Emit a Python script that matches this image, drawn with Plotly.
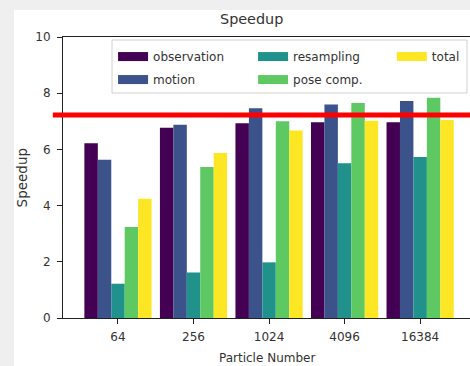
import plotly.graph_objects as go

categories = ["64", "256", "1024", "4096", "16384"]
series_names = ["observation", "motion", "resampling", "pose comp.", "total"]
observation = [6.22, 6.77, 6.93, 6.97, 6.97]
motion = [5.63, 6.88, 7.46, 7.60, 7.72]
resampling = [1.22, 1.62, 1.98, 5.51, 5.73]
pose_comp = [3.24, 5.37, 7.00, 7.65, 7.84]
total = [4.24, 5.87, 6.67, 7.02, 7.05]
y_ticks = [0, 2, 4, 6, 8, 10]
ref_line_value = 7.22

colors = ["#440154", "#3b528b", "#21918c", "#5ec962", "#fde725"]
values = [observation, motion, resampling, pose_comp, total]
legend_ids = ["legend", "legend", "legend2", "legend2", "legend3"]

FONT = "DejaVu Sans"
TXT = "#333333"
FS = 12

fig = go.Figure()
for name, vals, col in zip(series_names, values, colors):
    fig.add_trace(go.Bar(x=categories, y=vals, name=name, marker=dict(color=col, line=dict(width=0)),
                         showlegend=False))
# legend swatches
for name, col, lg in zip(series_names, colors, legend_ids):
    fig.add_trace(go.Scatter(x=[None], y=[None], mode="lines", name=name, legend=lg,
                             legendgroup=name, line=dict(color=col, width=9)))

leg_common = dict(yanchor="top", xanchor="left", y=0.982, bgcolor="rgba(0,0,0,0)",
                  tracegroupgap=4, font=dict(size=FS, color=TXT))

fig.update_layout(
    width=470, height=366,
    margin=dict(l=63, r=0, t=37, b=48),
    paper_bgcolor="#efefef", plot_bgcolor="rgba(0,0,0,0)",
    barmode="group", bargap=0.11, bargroupgap=0,
    font=dict(family=FONT, size=FS, color=TXT),
    xaxis=dict(type="category", range=[-0.728, 4.66], showline=True, linecolor="#222", linewidth=1,
               mirror=True, ticks="outside", ticklen=5, tickcolor="#222", showgrid=False,
               tickfont=dict(size=FS, color=TXT), ticklabelstandoff=3),
    yaxis=dict(range=[0, 10], tickvals=y_ticks, showline=True, linecolor="#222", linewidth=1,
               ticks="outside", ticklen=5, tickcolor="#222", showgrid=False, zeroline=False,
               tickfont=dict(size=FS, color=TXT), ticklabelstandoff=4),
    legend=dict(x=0.123, **leg_common),
    legend2=dict(x=0.467, **leg_common),
    legend3=dict(x=0.808, **leg_common),
)

fig.add_shape(type="rect", xref="paper", yref="paper", x0=-0.1204, x1=1.0, y0=-0.171, y1=1.096,
              fillcolor="white", line=dict(width=0), layer="below")
fig.add_shape(type="rect", xref="paper", yref="paper", x0=0.1204, x1=0.9926, y0=0.8007, y1=0.9893,
              fillcolor="white", line=dict(color="#d0d0d0", width=1), layer="below")
fig.add_shape(type="line", xref="paper", yref="y", x0=-0.025, x1=1.0, y0=ref_line_value, y1=ref_line_value,
              line=dict(color="#ff0000", width=5), layer="above")

fig.add_annotation(text="Speedup", xref="paper", yref="paper", x=0.464, y=1.064, showarrow=False,
                   font=dict(size=14.4, color=TXT), xanchor="center", yanchor="middle")
fig.add_annotation(text="Speedup", xref="paper", yref="paper", x=-0.101, y=0.5, showarrow=False,
                   textangle=-90, font=dict(size=13.5, color=TXT), xanchor="center", yanchor="middle")
fig.add_annotation(text="Particle Number", xref="paper", yref="paper", x=0.5, y=-0.142, showarrow=False,
                   font=dict(size=FS, color=TXT), xanchor="center", yanchor="middle")

fig.write_html("out.html", config={"displayModeBar": False},
               post_script="document.body.style.margin='0';document.body.style.overflow='hidden';")
